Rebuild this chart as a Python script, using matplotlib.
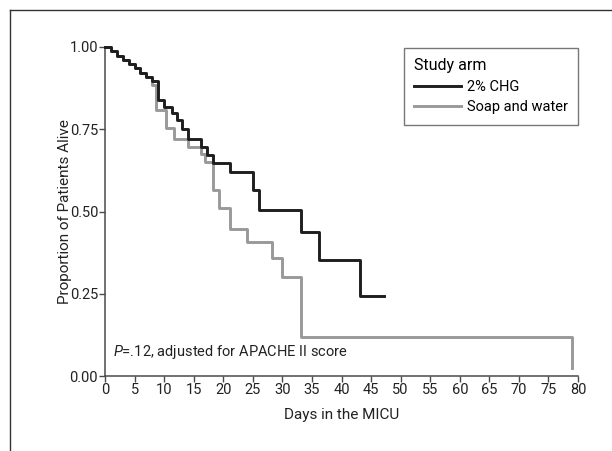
"""
km_plot.py

Kaplan-Meier style survival curves by study arm.
"""

import matplotlib
matplotlib.use("Agg")
import matplotlib.pyplot as plt
from matplotlib.lines import Line2D

# survival steps (days, proportion alive)
chg_days = [0, 1, 2, 3, 4, 5, 6, 7, 8, 9, 10, 11.3, 12.1, 13.1, 14.1,
            16.2, 17.2, 18.2, 21.1, 25.1, 26, 33.1, 36.2, 43.1, 47.2]
chg_surv = [1.0, 0.987, 0.974, 0.961, 0.948, 0.935, 0.922, 0.909, 0.896,
            0.84, 0.818, 0.798, 0.778, 0.75, 0.72, 0.695, 0.672, 0.648,
            0.619, 0.565, 0.505, 0.437, 0.354, 0.243, 0.243]

soap_days = [0, 1, 2, 3, 4, 5, 6, 7, 8, 8.7, 10.4, 11.6, 14.1, 16.2, 16.9,
             18.2, 19.3, 21.1, 24.1, 28.2, 30, 33.1, 79]
soap_surv = [1.0, 0.987, 0.974, 0.961, 0.948, 0.935, 0.922, 0.909, 0.884,
             0.81, 0.755, 0.719, 0.697, 0.675, 0.651, 0.565, 0.51, 0.447,
             0.408, 0.358, 0.302, 0.12, 0.025]

x_ticks = list(range(0, 85, 5))
y_ticks = [0.0, 0.25, 0.5, 0.75, 1.0]

plt.rcParams["font.family"] = ["Roboto", "DejaVu Sans"]
plt.rcParams["mathtext.fontset"] = "custom"
plt.rcParams["mathtext.it"] = "Roboto:italic"
plt.rcParams["mathtext.rm"] = "Roboto"

fig = plt.figure(figsize=(6.12, 4.51), dpi=100)
ax = fig.add_axes([105 / 612, 75 / 451, 473 / 612, 329 / 451])

axis_col = "#4a4a4a"

ax.plot(chg_days, chg_surv, drawstyle="steps-post", color="#1e1e1e",
        lw=2.1, label="2% CHG", clip_on=False, zorder=3)
ax.plot(soap_days, soap_surv, drawstyle="steps-post", color="#999999",
        lw=2.1, label="Soap and water", clip_on=False, zorder=2)

ax.set_xlim(0, 80)
ax.set_ylim(0, 1)
ax.set_xticks(x_ticks)
ax.set_yticks(y_ticks)
ax.set_yticklabels([f"{v:.2f}" for v in y_ticks])

for side in ["top", "right"]:
    ax.spines[side].set_visible(False)
for side in ["left", "bottom"]:
    ax.spines[side].set_color(axis_col)
    ax.spines[side].set_linewidth(1.1)

ax.tick_params(direction="out", length=4, width=1, color=axis_col,
               labelsize=10.5, pad=1, labelcolor="#222222")

ax.set_xlabel("Days in the MICU", fontsize=11, color="#222222", labelpad=8)
ax.set_ylabel("Proportion of Patients Alive", fontsize=11,
              color="#222222", labelpad=-2)

ax.text(1.3, 0.073, r"$P$=.12, adjusted for APACHE II score",
        fontsize=10.5, color="#222222", va="center", ha="left")

leg = ax.legend(title="Study arm", loc="upper right",
                bbox_to_anchor=(1.0, 0.997), borderaxespad=0,
                fontsize=10.5, title_fontsize=11.5,
                frameon=True, fancybox=False, handlelength=3.2,
                handletextpad=0.4, borderpad=0.7, labelspacing=0.45,
                alignment="left")
leg.get_frame().set_edgecolor("#555555")
leg.get_frame().set_linewidth(1.0)
leg._legend_box.align = "left"

# outer frame lines (top and left)
fig.add_artist(Line2D([10 / 612, 10 / 612], [0, 1 - 10 / 451],
                      color="#333333", lw=1.0))
fig.add_artist(Line2D([10 / 612, 1], [1 - 10 / 451, 1 - 10 / 451],
                      color="#333333", lw=1.0))

fig.savefig("out.png", dpi=100)
